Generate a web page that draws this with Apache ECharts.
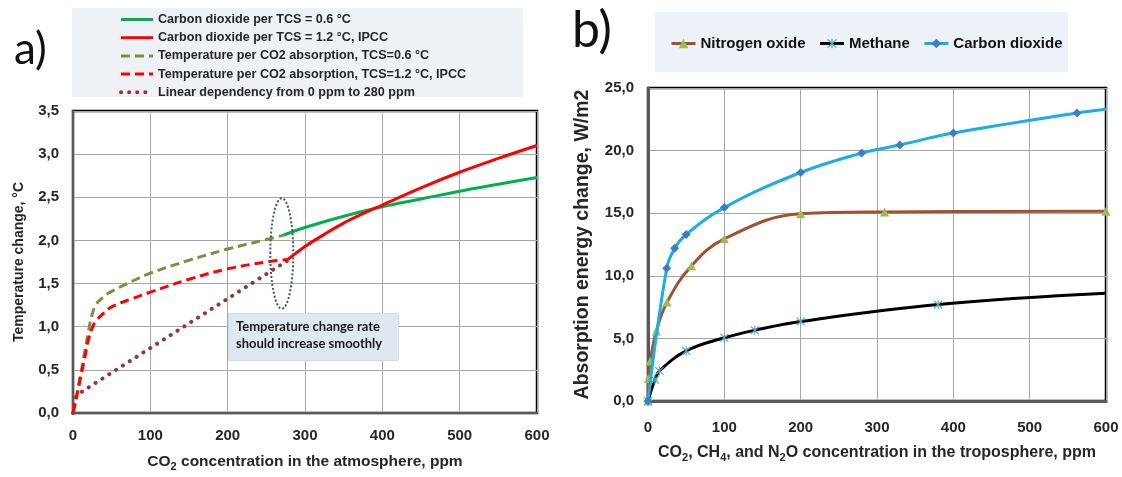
<!DOCTYPE html>
<html><head><meta charset="utf-8">
<script src="https://cdn.jsdelivr.net/npm/echarts@6/dist/echarts.min.js"></script>
<style>html,body{margin:0;padding:0;background:#fff}#c{width:1122px;height:477px}</style>
</head><body><div id="c"></div>
<script>
// ---------- Panel a) data ----------
const tcs06Dashed = [[0,0],[5,0.22],[10,0.46],[15,0.7],[20,0.95],[25,1.15],[30,1.26],[40,1.35],[50,1.41],[75,1.52],[100,1.62],[150,1.77],[200,1.9],[250,2.01],[272,2.06]];
const tcs12Dashed = [[0,0],[5,0.2],[10,0.42],[15,0.63],[20,0.85],[25,0.99],[30,1.07],[40,1.16],[50,1.23],[75,1.32],[100,1.4],[150,1.55],[200,1.67],[250,1.75],[278,1.78]];
const tcs06Solid = [[272,2.06],[300,2.15],[350,2.28],[400,2.39],[450,2.48],[500,2.57],[550,2.65],[600,2.73]];
const tcs12Solid = [[278,1.78],[300,1.93],[325,2.07],[350,2.2],[375,2.31],[400,2.41],[450,2.61],[500,2.79],[550,2.95],[600,3.10]];
const linearDep = [[0,0],[4,0.19],[12,0.25],[278,1.77]];
const namesA = ['Carbon dioxide per TCS = 0.6 °C','Carbon dioxide per TCS = 1.2 °C, IPCC','Temperature per CO2 absorption, TCS=0.6 °C','Temperature per CO2 absorption, TCS=1.2 °C, IPCC','Linear dependency from 0 ppm to 280 ppm'];
const noteLines = ['Temperature change rate','should increase smoothly'];

// ---------- Panel b) data ----------
const n2o = [[0,0],[0.5,1.8],[3,3.2],[11,5.6],[25,7.9],[57,10.8],[100,12.95],[200,14.95],[310,15.1],[600,15.15]];
const ch4 = [[0,0],[9,1.7],[15,2.4],[50,4.0],[100,5.05],[140,5.65],[200,6.35],[380,7.7],[600,8.6]];
const co2 = [[0,0],[24.5,10.6],[35,12.2],[50,13.3],[100,15.45],[200,18.25],[280,19.8],[330,20.45],[400,21.4],[562,23.0],[600,23.3]];
const namesB = ['Nitrogen oxide','Methane','Carbon dioxide'];

const FONT = 'Arial, "Liberation Sans", sans-serif';
const comma = v => v.toFixed(1).replace('.', ',');
const lbl = {fontFamily: FONT, fontWeight: 'bold', fontSize: 15, color: '#262626'};
const star = 'path://M4.4 0 L5.6 0 L5.6 10 L4.4 10 Z M0.2 1.1 L1.1 0.2 L9.8 8.9 L8.9 9.8 Z M8.9 0.2 L9.8 1.1 L1.1 9.8 L0.2 8.9 Z';

function lastNoSym(arr){ return arr.map((p,i)=> i===arr.length-1 ? {value:p, symbol:'none'} : p); }
function nameRich(size){
  return {rich: {a: Object.assign({}, lbl, {fontSize: size}), s: Object.assign({}, lbl, {fontSize: Math.round(size*0.68), padding: [9,0,0,0]})}};
}

const chart = echarts.init(document.getElementById('c'), null, {renderer:'canvas'});
const option = {
  backgroundColor: '#fff',
  animation: false,
  grid: [
    {left: 73, top: 111, width: 464, height: 309, show: true, borderColor: '#000', borderWidth: 2.5, backgroundColor: 'transparent'},
    {left: 648, top: 88, width: 458, height: 313, show: true, borderColor: '#000', borderWidth: 2.5, backgroundColor: 'transparent'}
  ],
  xAxis: [
    {type: 'value', gridIndex: 0, min: 0, max: 600, interval: 100,
     axisLine: {show: true, lineStyle: {color: '#595959', width: 2}}, axisTick: {show: false},
     splitLine: {lineStyle: {color: '#A6A6A6', width: 1}},
     axisLabel: Object.assign({margin: 15}, lbl),
     name: '{a|CO}{s|2}{a| concentration in the atmosphere, ppm}', nameLocation: 'middle', nameGap: 39,
     nameTextStyle: nameRich(15.5)},
    {type: 'value', gridIndex: 1, min: 0, max: 600, interval: 100,
     axisLine: {show: true, lineStyle: {color: '#595959', width: 3}}, axisTick: {show: false},
     splitLine: {lineStyle: {color: '#A6A6A6', width: 1}},
     axisLabel: Object.assign({margin: 19}, lbl),
     name: '{a|CO}{s|2}{a|, CH}{s|4}{a|, and N}{s|2}{a|O concentration in the troposphere, ppm}', nameLocation: 'middle', nameGap: 42,
     nameTextStyle: nameRich(16)}
  ],
  yAxis: [
    {type: 'value', gridIndex: 0, min: 0, max: 3.5, interval: 0.5,
     axisLine: {show: true, lineStyle: {color: '#595959', width: 2}}, axisTick: {show: false},
     splitLine: {lineStyle: {color: '#A6A6A6', width: 1}},
     axisLabel: Object.assign({margin: 14, formatter: comma}, lbl),
     name: 'Temperature change, °C', nameLocation: 'middle', nameGap: 47, nameTextStyle: Object.assign({}, lbl, {fontSize: 14})},
    {type: 'value', gridIndex: 1, min: 0, max: 25, interval: 5,
     axisLine: {show: true, lineStyle: {color: '#595959', width: 3}}, axisTick: {show: false},
     splitLine: {lineStyle: {color: '#A6A6A6', width: 1}},
     axisLabel: Object.assign({margin: 14, formatter: comma}, lbl),
     name: 'Absorption energy change, W/m2', nameLocation: 'middle', nameGap: 55, nameTextStyle: Object.assign({}, lbl, {fontSize: 19.5})}
  ],
  legend: [
    {data: namesA.map((n, i) => ({name: n, lineStyle: {width: i === 4 ? 4 : 3}})),
     orient: 'vertical', left: 114, top: 8, itemWidth: 32, itemHeight: 12, itemGap: 5.2,
     itemStyle: {opacity: 0},
     textStyle: {fontFamily: FONT, fontWeight: 'bold', fontSize: 12.6, color: '#262626'}, z: 5},
    {data: namesB.map(n => ({name: n, lineStyle: {width: 3}})),
     orient: 'horizontal', left: 665, top: 31, itemWidth: 24, itemHeight: 12, itemGap: 13,
     textStyle: {fontFamily: FONT, fontWeight: 'bold', fontSize: 15, color: '#111'}, z: 5}
  ],
  series: [
    {name: namesA[0], type: 'line', xAxisIndex: 0, yAxisIndex: 0, data: tcs06Solid, smooth: 0.4, symbol: 'none',
     lineStyle: {color: '#00B050', width: 3}, itemStyle: {color: '#00B050'}, z: 3},
    {name: namesA[1], type: 'line', xAxisIndex: 0, yAxisIndex: 0, data: tcs12Solid, smooth: 0.4, symbol: 'none',
     lineStyle: {color: '#FF0000', width: 3}, itemStyle: {color: '#FF0000'}, z: 4},
    {name: namesA[2], type: 'line', xAxisIndex: 0, yAxisIndex: 0, data: tcs06Dashed, smooth: 0.4, symbol: 'none',
     lineStyle: {color: '#77933C', width: 3, type: [9, 5]}, itemStyle: {color: '#77933C'}, z: 3},
    {name: namesA[3], type: 'line', xAxisIndex: 0, yAxisIndex: 0, data: tcs12Dashed, smooth: 0.4, symbol: 'none',
     lineStyle: {color: '#FF0000', width: 3, type: [9, 5]}, itemStyle: {color: '#FF0000'}, z: 4},
    {name: namesA[4], type: 'line', xAxisIndex: 0, yAxisIndex: 0, data: linearDep, smooth: false, symbol: 'none',
     lineStyle: {color: '#953735', width: 4, type: [0.1, 8], cap: 'round'}, itemStyle: {color: '#953735'}, z: 3},

    {name: namesB[0], type: 'line', xAxisIndex: 1, yAxisIndex: 1, data: n2o, smooth: 0.4, symbol: 'triangle', symbolSize: 9,
     lineStyle: {color: '#A0522D', width: 3}, itemStyle: {color: '#9BBB59'}, z: 3},
    {name: namesB[1], type: 'line', xAxisIndex: 1, yAxisIndex: 1, data: lastNoSym(ch4), smooth: 0.4, symbol: star, symbolSize: 9,
     lineStyle: {color: '#000', width: 3}, itemStyle: {color: '#4BACC6'}, z: 3},
    {name: namesB[2], type: 'line', xAxisIndex: 1, yAxisIndex: 1, data: lastNoSym(co2), smooth: 0.4, symbol: 'diamond', symbolSize: 9,
     lineStyle: {color: '#1CADE4', width: 3}, itemStyle: {color: '#3F7CC7'}, z: 4}
  ]
};
chart.setOption(option);

// annotation elements placed relative to the panel a) coordinate system
const ec = chart.convertToPixel({gridIndex: 0}, [270, 1.86]);
const ey = chart.convertToPixel({gridIndex: 0}, [270, 2.5]);
const ry = ec[1] - ey[1];
chart.setOption({
  graphic: [
    {type: 'rect', left: 72, top: 8, shape: {width: 451, height: 89}, style: {fill: '#EEF1F6'}, z: 0},
    {type: 'rect', left: 655, top: 12, shape: {width: 413, height: 60}, style: {fill: '#EDF1F8'}, z: 0},
    {type: 'text', left: 14, top: 28, style: {text: 'a)', font: '44px Lato, "Open Sans", sans-serif', fill: '#111'}, z: 10},
    {type: 'text', left: 572, top: 6, style: {text: 'b)', font: '50px Lato, "Open Sans", sans-serif', fill: '#111'}, z: 10},
    {type: 'ellipse', shape: {cx: ec[0], cy: ec[1] + 1, rx: 11.5, ry: ry}, style: {fill: 'none', stroke: '#44546A', lineWidth: 2, lineDash: [2, 2]}, z: 10},
    {type: 'rect', left: 228, top: 313, shape: {width: 170, height: 47}, style: {fill: '#DFE7F1', stroke: '#D0DBE8', lineWidth: 1}, z: 11},
    {type: 'text', left: 236, top: 318, style: {text: noteLines.join('\n'), font: 'bold 13px Lato, "Open Sans", sans-serif', lineHeight: 17, fill: '#1a1a1a'}, z: 12}
  ]
});
</script></body></html>
